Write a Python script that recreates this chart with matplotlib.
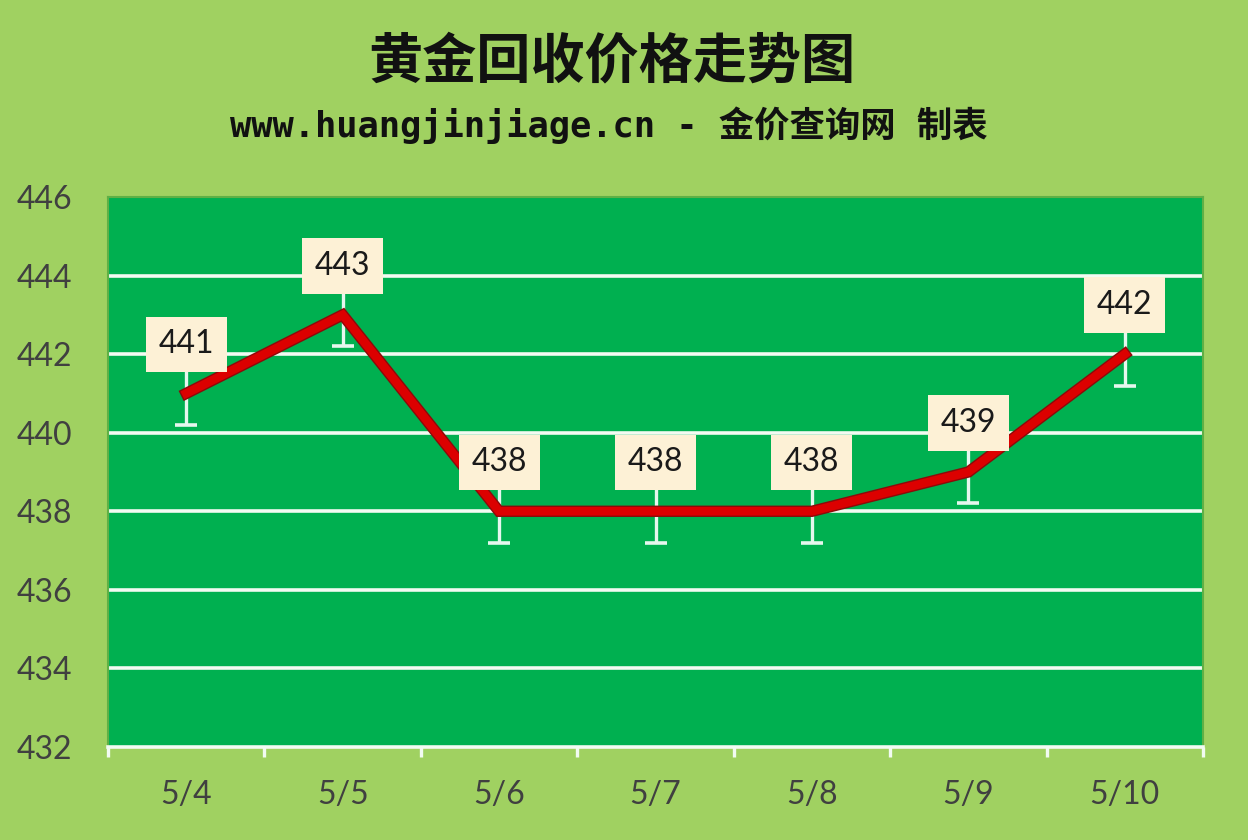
import numpy as np
import matplotlib
matplotlib.use('Agg')
import matplotlib.pyplot as plt
import matplotlib.patheffects as pe

# 数据
dates = ['5/4', '5/5', '5/6', '5/7', '5/8', '5/9', '5/10']
prices = [441, 443, 438, 438, 438, 439, 442]
err = [0.8] * len(prices)
y_ticks = [432, 434, 436, 438, 440, 442, 444, 446]

title = '黄金回收价格走势图'
subtitle = 'www.huangjinjiage.cn - 金价查询网 制表'

fig = plt.figure(figsize=(12.48, 8.4), dpi=100, facecolor='#A0D161')
ax = fig.add_axes([108 / 1248, 93 / 840, 1095 / 1248, 550 / 840])
ax.set_facecolor('#00B050')

x = np.arange(len(dates))

# 网格线
for yv in y_ticks[1:-1]:
    ax.axhline(yv, color='#F2FBF2', lw=2.6, zorder=1)

# 误差线
ax.errorbar(x, prices, yerr=err, fmt='none', ecolor='#E6F7EE',
            elinewidth=2.4, capsize=8, capthick=2.6, zorder=2)

# 折线
ax.plot(x, prices, color='#DC0000', lw=6.2, solid_joinstyle='miter', zorder=3,
        path_effects=[pe.Stroke(linewidth=8.2, foreground='#8C0A0A'), pe.Normal()])

# 数据标签
for xi, yi in zip(x, prices):
    ax.annotate(str(yi), (xi, yi), xytext=(0, 49), textcoords='offset pixels',
                ha='center', va='center', fontsize=23, color='#1A1A1A',
                family='Lato', zorder=5,
                bbox=dict(boxstyle='square,pad=0.4', fc='#FDF1D6', ec='none'))

ax.set_xlim(-0.5, len(dates) - 0.5)
ax.set_ylim(432, 446)
ax.set_yticks(y_ticks)
ax.set_xticks(x)
ax.set_xticklabels(dates)
ax.set_xticks(np.arange(-0.5, len(dates)), minor=True)

ax.tick_params(axis='y', length=0, pad=26, labelsize=23, labelcolor='#404040')
ax.tick_params(axis='x', which='major', length=0, pad=24, labelsize=23,
               labelcolor='#404040')
ax.tick_params(axis='x', which='minor', length=7, width=2.4, color='#F2FBF2')
for lab in ax.get_xticklabels() + ax.get_yticklabels():
    lab.set_family('Lato')

for side in ['top', 'left', 'right']:
    ax.spines[side].set_color('#5FB046')
    ax.spines[side].set_linewidth(1.5)
ax.spines['bottom'].set_color('#F2FBF2')
ax.spines['bottom'].set_linewidth(2.6)

fig.text(0.49, 0.926, title, ha='center', va='center', fontsize=39,
         fontweight='bold', family=['Noto Sans CJK SC'], color='#111111')
fig.text(0.488, 0.851, subtitle, ha='center', va='center', fontsize=25.5,
         fontweight='bold', family=['DejaVu Sans Mono', 'Noto Sans CJK SC'],
         color='#111111')

fig.savefig('out.png', dpi=100, facecolor=fig.get_facecolor())
